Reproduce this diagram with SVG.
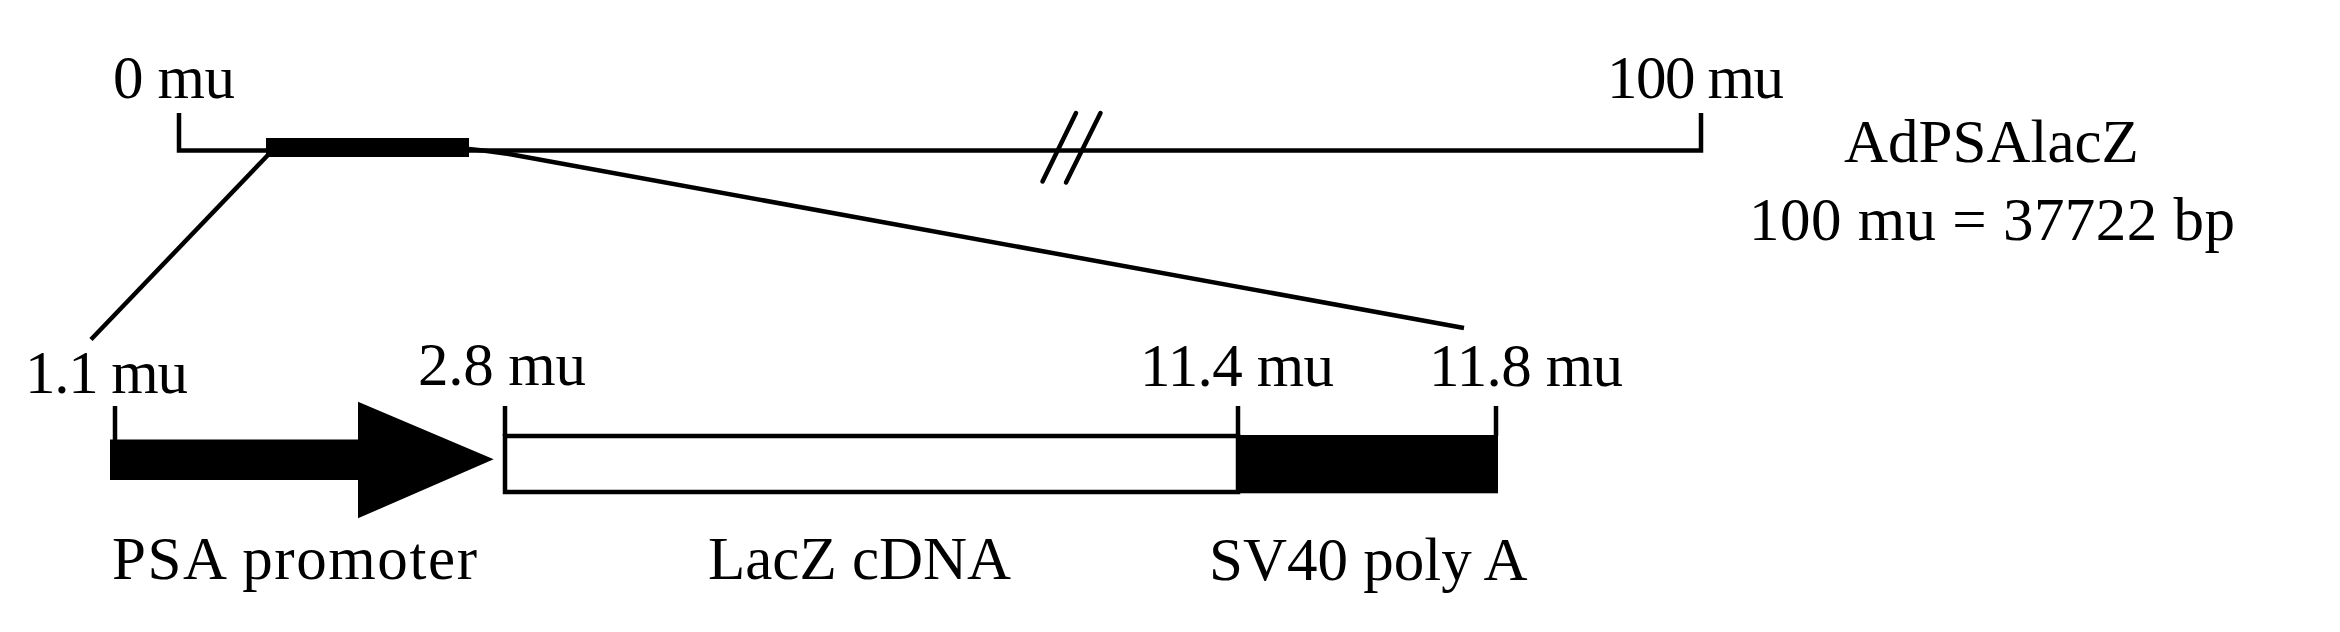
<svg xmlns="http://www.w3.org/2000/svg" width="2340" height="632" viewBox="0 0 2340 632">
<style>
.t{font-family:"Liberation Serif","Times New Roman",serif;font-size:61px;fill:#000}
.ln{fill:none;stroke:#000;stroke-width:4.5;stroke-linecap:butt;stroke-linejoin:miter}
.sl{fill:none;stroke:#000;stroke-width:4.5;stroke-linecap:round}
</style>
<rect x="0" y="0" width="2340" height="632" fill="#fff"/>
<g id="genome-map">
<path class="ln" d="M179,113 V150.5 H1701 V113"/>
<rect x="266" y="138" width="203" height="19" fill="#000"/>
<line class="sl" x1="1076" y1="113" x2="1042.5" y2="181.5"/>
<line class="sl" x1="1100.5" y1="113" x2="1066" y2="182.5"/>
<text class="t" x="113" y="98" textLength="122" lengthAdjust="spacing">0 mu</text>
<text class="t" x="1607" y="98" textLength="177" lengthAdjust="spacing">100 mu</text>
</g>
<g id="title">
<text class="t" x="1844" y="162">AdPSAlacZ</text>
<text class="t" x="1749" y="240" textLength="486" lengthAdjust="spacing">100 mu = 37722 bp</text>
</g>
<g id="connectors">
<path class="ln" d="M268,155 L91,339.5"/>
<path class="ln" d="M469,149 Q490,151 509,154 L1464,328"/>
</g>
<g id="psa-promoter">
<line class="ln" x1="115" y1="406" x2="115" y2="441"/>
<polygon points="110,439.5 358,439.5 358,401.7 493.7,459.3 358,518.3 358,480 110,480" fill="#000"/>
<text class="t" x="25" y="393" textLength="163" lengthAdjust="spacing">1.1 mu</text>
<text class="t" x="112" y="579" textLength="365" lengthAdjust="spacing">PSA promoter</text>
</g>
<g id="lacz">
<line class="ln" x1="505" y1="406" x2="505" y2="436"/>
<rect class="ln" x="505" y="436" width="733" height="56" fill="#fff"/>
<text class="t" x="418" y="385" textLength="168" lengthAdjust="spacing">2.8 mu</text>
<text class="t" x="708" y="579">LacZ cDNA</text>
</g>
<g id="sv40">
<line class="ln" x1="1238" y1="406" x2="1238" y2="436"/>
<line class="ln" x1="1496" y1="406" x2="1496" y2="436"/>
<rect x="1238" y="435" width="260" height="58.3" fill="#000"/>
<text class="t" x="1140" y="386" textLength="194" lengthAdjust="spacing">11.4 mu</text>
<text class="t" x="1429" y="386" textLength="194" lengthAdjust="spacing">11.8 mu</text>
<text class="t" x="1209" y="580">SV40 poly A</text>
</g>
</svg>
